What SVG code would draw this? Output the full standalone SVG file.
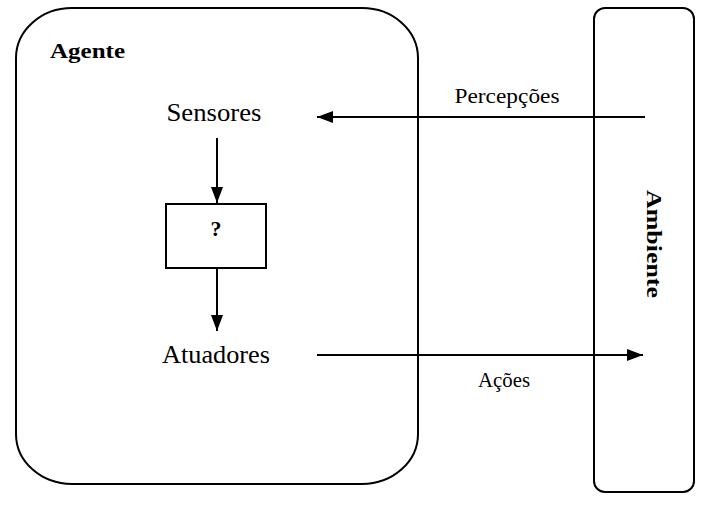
<svg xmlns="http://www.w3.org/2000/svg" width="717" height="507" viewBox="0 0 717 507">
<style>
.box{fill:none;stroke:#000;stroke-width:2}
.conn{fill:none;stroke:#000;stroke-width:2}
.t{font-family:"Liberation Serif","Times New Roman",serif;fill:#000}
.b{font-weight:bold}
</style>
<defs>
<marker id="arr" viewBox="0 0 16 12" refX="16" refY="6" markerWidth="16" markerHeight="12" markerUnits="userSpaceOnUse" orient="auto">
<path d="M0,0 L16,6 L0,12 Z" fill="#000"/>
</marker>
</defs>
<rect width="717" height="507" fill="#fff"/>
<g id="agente">
<rect class="box" x="16" y="8" width="402" height="476" rx="56" ry="50"/>
<text class="t b" x="50" y="58" font-size="22" textLength="75" lengthAdjust="spacingAndGlyphs">Agente</text>
</g>
<g id="sensores">
<text class="t" x="214" y="121" font-size="26" text-anchor="middle" textLength="95" lengthAdjust="spacingAndGlyphs">Sensores</text>
</g>
<g id="decisao">
<rect class="box" x="166" y="204" width="100" height="64"/>
<text class="t b" x="216" y="236" font-size="22" text-anchor="middle">?</text>
</g>
<g id="atuadores">
<text class="t" x="216" y="363" font-size="25" text-anchor="middle" textLength="108" lengthAdjust="spacingAndGlyphs">Atuadores</text>
</g>
<g id="ambiente">
<rect class="box" x="594" y="8" width="100" height="484" rx="11" ry="11"/>
<text class="t b" transform="translate(647,244) rotate(90)" x="0" y="0" font-size="21" text-anchor="middle" textLength="108" lengthAdjust="spacingAndGlyphs">Ambiente</text>
</g>
<g id="connectors">
<line class="conn" x1="217" y1="138" x2="217" y2="203" marker-end="url(#arr)"/>
<line class="conn" x1="217" y1="268" x2="217" y2="331" marker-end="url(#arr)"/>
<line class="conn" x1="645" y1="117" x2="317" y2="117" marker-end="url(#arr)"/>
<line class="conn" x1="317" y1="355" x2="643" y2="355" marker-end="url(#arr)"/>
<text class="t" x="507" y="103" font-size="21" text-anchor="middle" textLength="105" lengthAdjust="spacingAndGlyphs">Percepções</text>
<text class="t" x="504" y="387" font-size="21" text-anchor="middle" textLength="52" lengthAdjust="spacingAndGlyphs">Ações</text>
</g>
</svg>
